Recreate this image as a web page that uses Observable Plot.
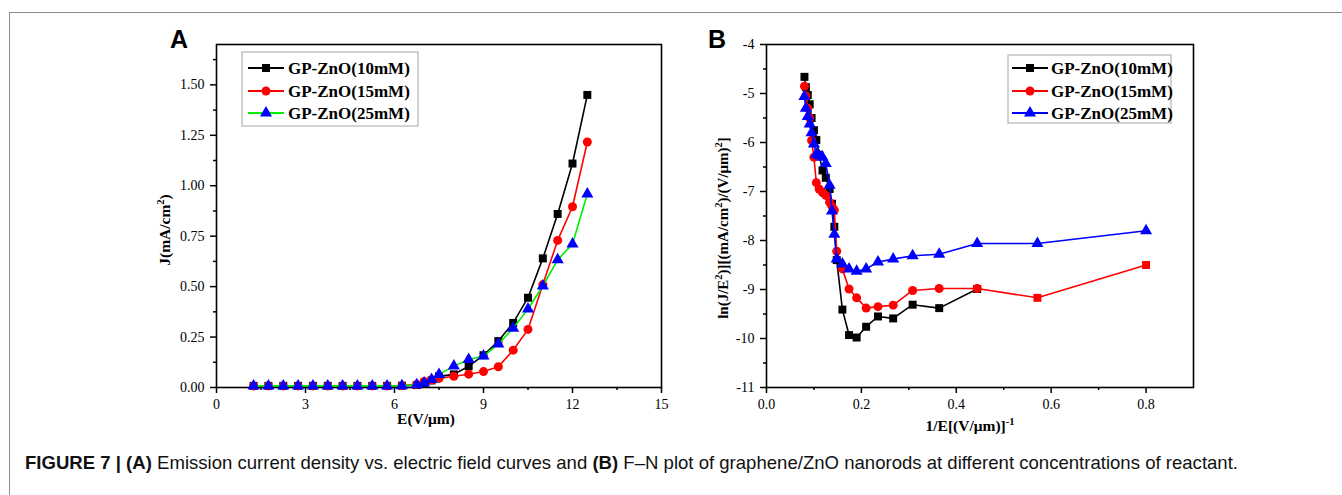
<!DOCTYPE html>
<html><head><meta charset="utf-8">
<script src="https://cdn.jsdelivr.net/npm/d3@7"></script>
<script src="https://cdn.jsdelivr.net/npm/@observablehq/plot@0.6"></script>
<style>
body{margin:0;background:#fff;width:1342px;height:495px;overflow:hidden;position:relative;}
#frame{position:absolute;left:9px;top:12px;right:-5px;bottom:-5px;border-top:1.5px solid #8c8c8c;border-left:1.5px solid #8c8c8c;}
#panelA{position:absolute;left:150px;top:20px;}
#panelB{position:absolute;left:690px;top:20px;}
#caption{position:absolute;left:25px;top:452px;white-space:nowrap;font-family:'Liberation Sans',Arial,sans-serif;font-size:19px;line-height:22px;color:#111;transform-origin:0 0;}
#caption b{font-weight:bold;}
</style></head><body>
<div id="frame"></div>
<div id="panelA"></div><div id="panelB"></div>
<div id="caption"><b>FIGURE 7 | (A)</b> Emission current density vs. electric field curves and <b>(B)</b> F–N plot of graphene/ZnO nanorods at different concentrations of reactant.</div>
<script>
// ---------- data ----------
const seriesNames = ["GP-ZnO(10mM)", "GP-ZnO(15mM)", "GP-ZnO(25mM)"];

// Panel A: J vs E
const fieldE = [1.25,1.75,2.25,2.75,3.25,3.75,4.25,4.75,5.25,5.75,6.25,6.75,7,7.25,7.5,8,8.5,9,9.5,10,10.5,11,11.5,12,12.5];
const jBlack = [0.008,0.008,0.008,0.008,0.008,0.008,0.008,0.008,0.008,0.008,0.009,0.012,0.02,0.035,0.055,0.065,0.105,0.16,0.23,0.32,0.445,0.64,0.86,1.11,1.45];
const jRed   = [0.008,0.008,0.008,0.008,0.008,0.008,0.008,0.008,0.008,0.008,0.009,0.015,0.03,0.037,0.045,0.056,0.066,0.079,0.103,0.185,0.288,0.51,0.729,0.896,1.217];
const jBlue  = [0.008,0.008,0.008,0.008,0.008,0.008,0.008,0.008,0.008,0.008,0.009,0.014,0.022,0.04,0.065,0.106,0.139,0.156,0.215,0.294,0.389,0.503,0.633,0.711,0.959];

// Panel B: F-N plot, ln(J/E^2) vs 1/E
const invE = [0.08,0.083,0.087,0.091,0.095,0.1,0.105,0.111,0.118,0.125,0.133,0.138,0.143,0.148,0.16,0.174,0.19,0.21,0.235,0.267,0.308,0.364,0.444,0.571,0.8];
const lnBlack = [-4.66,-4.87,-5.03,-5.22,-5.5,-5.75,-5.95,-6.25,-6.57,-6.72,-6.95,-7.25,-7.72,-8.4,-9.41,-9.93,-9.98,-9.76,-9.55,-9.59,-9.31,-9.38,-8.99];
const lnRed   = [-4.85,-5.05,-5.3,-5.5,-5.96,-6.3,-6.82,-6.95,-7.02,-7.08,-7.22,-7.3,-7.38,-8.22,-8.58,-8.99,-9.17,-9.38,-9.35,-9.32,-9.02,-8.98,-8.98,-9.17,-8.5];
const lnBlue  = [-5.06,-5.3,-5.47,-5.62,-5.8,-6.03,-6.24,-6.27,-6.3,-6.43,-6.87,-7.4,-7.87,-8.38,-8.48,-8.58,-8.63,-8.58,-8.44,-8.38,-8.31,-8.28,-8.06,-8.06,-7.8];

// ticks
const xTicksA = [0,3,6,9,12,15];
const xMinorA = [1.5,4.5,7.5,10.5,13.5];
const yTicksA = [0,0.25,0.5,0.75,1.0,1.25,1.5];
const yMinorA = [0.125,0.375,0.625,0.875,1.125,1.375,1.625];
const xTicksB = [0,0.2,0.4,0.6,0.8];
const xMinorB = [0.1,0.3,0.5,0.7];
const yTicksB = [-11,-10,-9,-8,-7,-6,-5,-4];
const yMinorB = [-10.5,-9.5,-8.5,-7.5,-6.5,-5.5,-4.5];

// ---------- helpers ----------
const rows = (xs, ys, s) => ys.map((y, i) => ({x: xs[i], y, s, i}));
const serif = "'Liberation Serif','Times New Roman',serif";
const sans = "'Liberation Sans',Arial,sans-serif";

function axes(xt, xm, yt, ym, xf, yf) {
  return [
    Plot.axisX(xm, {tickSize: 3, tickFormat: () => "", label: null, strokeWidth: 1.5}),
    Plot.axisX(xt, {tickSize: 6, tickPadding: 6, tickFormat: xf, label: null, strokeWidth: 1.5}),
    Plot.axisY(ym, {tickSize: 3, tickFormat: () => "", label: null, strokeWidth: 1.5}),
    Plot.axisY(yt, {tickSize: 6, tickPadding: 6, tickFormat: yf, label: null, strokeWidth: 1.5}),
    Plot.frame({stroke: "#000", strokeWidth: 1.6})
  ];
}

function txt(sel, family, size, weight, anchor) {
  return sel.style("font-family", family).style("font-size", size + "px")
    .style("font-weight", weight).style("text-anchor", anchor).attr("fill", "#000");
}

function addTitle(svg, x, y, rot, parts, size = 15.5) {
  const t = txt(d3.select(svg).append("text").attr("transform", `translate(${x},${y}) rotate(${rot})`),
    serif, size, "bold", "middle");
  let up = false;
  parts.forEach(p => {
    const sp = t.append("tspan").text(p.t);
    if (p.sup) { sp.style("font-size", "10.5px"); if (!up) { sp.attr("dy", -6.5); up = true; } }
    else if (up) { sp.attr("dy", 6.5); up = false; }
  });
}

function addLetter(svg, x, y, s) {
  txt(d3.select(svg).append("text").attr("x", x).attr("y", y), sans, 25, "bold", "start").text(s);
}

function addLegend(svg, box, entries, lineX0, lineX1, textX, rowsY) {
  const g = d3.select(svg).append("g");
  g.append("rect").attr("x", box[0]).attr("y", box[1]).attr("width", box[2]).attr("height", box[3])
    .attr("fill", "#fff").attr("stroke", "#b4b4b4").attr("stroke-width", 1.2);
  entries.forEach((e, k) => {
    const y = rowsY[k];
    g.append("line").attr("x1", lineX0).attr("x2", lineX1).attr("y1", y).attr("y2", y)
      .attr("stroke", e.line).attr("stroke-width", 1.8);
    const sym = {square: d3.symbolSquare, circle: d3.symbolCircle, triangle: d3.symbolTriangle}[e.symbol];
    g.append("path").attr("d", d3.symbol(sym, Math.PI * 4.5 * 4.5)())
      .attr("transform", `translate(${(lineX0 + lineX1) / 2},${y})`).attr("fill", e.fill);
    txt(g.append("text").attr("x", textX).attr("y", y).attr("dy", "0.35em"), serif, 17, "bold", "start")
      .text(e.name);
  });
}

const plotStyle = {fontFamily: serif, fontSize: "14px", color: "#000", background: "transparent", overflow: "visible"};

// ---------- Panel A ----------
const dA = [rows(fieldE, jBlack, 0), rows(fieldE, jRed, 1), rows(fieldE, jBlue, 2)];
const styleA = [
  {line: "#000000", fill: "#000000", symbol: "square"},
  {line: "#ff0000", fill: "#ff0000", symbol: "circle"},
  {line: "#00ee00", fill: "#0000ff", symbol: "triangle"}
];
const A = Plot.plot({
  width: 520, height: 420, marginLeft: 66, marginRight: 9, marginTop: 24, marginBottom: 53,
  style: plotStyle,
  x: {domain: [0, 15]}, y: {domain: [0, 1.7]},
  marks: [
    ...axes(xTicksA, xMinorA, yTicksA, yMinorA, d => String(d), d3.format(".2f")),
    ...dA.flatMap((d, k) => [
      Plot.line(d, {x: "x", y: "y", stroke: styleA[k].line, strokeWidth: 1.6}),
      Plot.dot(d, {x: "x", y: "y", symbol: styleA[k].symbol, r: 4.5, fill: styleA[k].fill})
    ])
  ]
});
document.getElementById("panelA").append(A);
addLetter(A, 20, 28, "A");
addTitle(A, 276, 404, 0, [{t: "E(V/μm)"}]);
addTitle(A, 20, 210, -90, [{t: "J(mA/cm"}, {t: "2", sup: true}, {t: ")"}]);
addLegend(A, [92, 32, 176, 74], seriesNames.map((n, k) => ({name: n, ...styleA[k]})), 98, 134, 138, [48, 71, 93]);

// ---------- Panel B ----------
const dB = [rows(invE, lnBlack, 0), rows(invE, lnRed, 1), rows(invE, lnBlue, 2)];
const styleB = [
  {line: "#000000", fill: "#000000", symbol: "square"},
  {line: "#ff0000", fill: "#ff0000", symbol: "circle"},
  {line: "#0000ff", fill: "#0000ff", symbol: "triangle"}
];
const B = Plot.plot({
  width: 520, height: 420, marginLeft: 76, marginRight: 17, marginTop: 24, marginBottom: 53,
  style: plotStyle,
  x: {domain: [0, 0.9]}, y: {domain: [-11, -4]},
  marks: [
    ...axes(xTicksB, xMinorB, yTicksB, yMinorB, d3.format(".1f"), d => String(d)),
    ...dB.flatMap((d, k) => [
      Plot.line(d, {x: "x", y: "y", stroke: styleB[k].line, strokeWidth: 1.6}),
      Plot.dot(d, {x: "x", y: "y", symbol: styleB[k].symbol, r: 4.5, fill: styleB[k].fill,
                   filter: k === 1 ? (r => r.i < 23) : undefined}),
      ...(k === 1 ? [Plot.dot(d, {x: "x", y: "y", symbol: "square", r: 4.5, fill: styleB[k].fill, filter: r => r.i >= 23})] : [])
    ])
  ]
});
document.getElementById("panelB").append(B);
addLetter(B, 18, 28, "B");
addTitle(B, 280, 411, 0, [{t: "1/E[(V/μm)]"}, {t: "-1", sup: true}]);
addTitle(B, 38, 208, -90, [{t: "ln(J/E"}, {t: "2", sup: true}, {t: ")][(mA/cm"}, {t: "2", sup: true}, {t: ")/(V/μm)"}, {t: "2", sup: true}, {t: "]"}], 15);
addLegend(B, [318, 35, 163, 68], seriesNames.map((n, k) => ({name: n, ...styleB[k]})), 322, 358, 361, [48, 71, 93]);

// ---------- caption: fit to the reference's width ----------
const capEl = document.getElementById("caption");
const w = capEl.getBoundingClientRect().width;
capEl.style.transform = `scaleX(${1213 / w})`;
</script>
</body></html>
